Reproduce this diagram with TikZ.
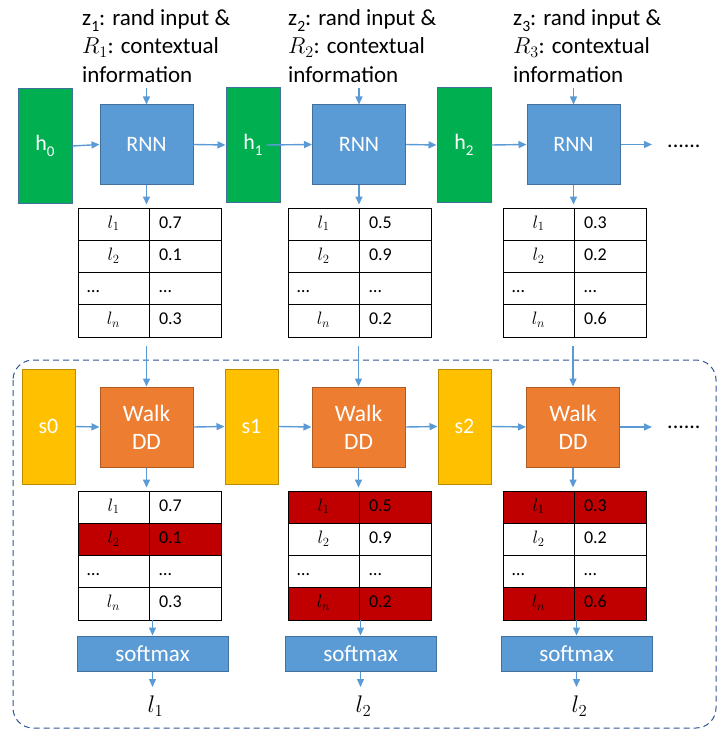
\RequirePackage{fix-cm}
\documentclass[tikz,border=0pt]{standalone}
\usepackage{graphicx}
\usepackage{fontspec}
\setmainfont{Carlito}
\usetikzlibrary{arrows.meta}

\definecolor{hgreen}{HTML}{00B050}
\definecolor{boxblue}{HTML}{5B9BD5}
\definecolor{boxedge}{HTML}{41719C}
\definecolor{walkorange}{HTML}{ED7D31}
\definecolor{walkedge}{HTML}{AE5A21}
\definecolor{stateyellow}{HTML}{FFC000}
\definecolor{stateedge}{HTML}{BC8C00}
\definecolor{pickred}{HTML}{C00000}
\definecolor{flowblue}{HTML}{5B9BD5}
\definecolor{frameblue}{HTML}{2F5597}

% lowered, smaller subscript in the text font
\newcommand\lsub[1]{\raisebox{-0.28em}{\scalebox{0.68}{#1}}}
% ellipsis pushed to the left of a label cell
\newcommand\dotsleft{\makebox[53pt][l]{…}}

% one probability table: prefix, left x, top y, rows label/value/fill
\newcommand\probtable[4]{%
  \foreach \lab/\val/\fc [count=\i] in {#4}{%
    \node[cellL, fill=\fc] (#1l\i) at ({#2+35.5},{#3+(\i-0.5)*32.25}) {\lab};
    \node[cellR, fill=\fc] (#1r\i) at ({#2+107},{#3+(\i-0.5)*32.25}) {\val};
  }}

\tikzset{
  hstate/.style={rectangle, fill=hgreen, draw=boxedge, line width=1pt,
    minimum width=54pt, minimum height=114pt, inner sep=0pt, text=white,
    font=\fontsize{22}{26}\selectfont},
  sstate/.style={rectangle, fill=stateyellow, draw=stateedge, line width=1pt,
    minimum width=53pt, minimum height=115pt, inner sep=0pt, text=white,
    font=\fontsize{22}{26}\selectfont},
  rnnbox/.style={rectangle, fill=boxblue, draw=boxedge, line width=1pt,
    minimum width=93pt, minimum height=79pt, inner sep=0pt, text=white,
    font=\fontsize{22}{26}\selectfont},
  walkbox/.style={rectangle, fill=walkorange, draw=walkedge, line width=1pt,
    minimum width=93pt, minimum height=80pt, inner sep=0pt, text=white,
    align=center, font=\fontsize{23.5}{28}\selectfont},
  softbox/.style={rectangle, fill=boxblue, draw=boxedge, line width=1pt,
    minimum width=151pt, minimum height=35pt, inner sep=0pt, text=white,
    font=\fontsize{23}{26}\selectfont},
  flow/.style={draw=flowblue, line width=1.4pt, -{Triangle[length=8pt,width=7pt]}},
  cellL/.style={rectangle, draw=black, line width=0.9pt, text width=53pt,
    inner xsep=9pt, inner ysep=0pt, align=center, minimum height=32.25pt,
    text height=12pt, text depth=4pt, font=\fontsize{18}{20}\selectfont},
  cellR/.style={cellL, text width=52pt, inner xsep=10pt, align=left},
  inputtext/.style={anchor=north west, inner sep=0pt, align=left,
    font=\fontsize{23}{28.5}\selectfont},
  outlabel/.style={anchor=north, inner sep=0pt, font=\fontsize{24}{26}\selectfont},
  moredots/.style={anchor=west, inner sep=0pt, font=\fontsize{22}{24}\selectfont},
  stageframe/.style={draw=frameblue, line width=1pt, dash pattern=on 6pt off 4pt,
    rounded corners=20pt},
}

\begin{document}
\begin{tikzpicture}[x=1pt, y=-1pt]
\useasboundingbox (0,0) rectangle (718,730);

% dashed frame around the walk stage
\draw[stageframe] (13,360) rectangle (716,728);

% ---- recurrent generator row ----
\node[inputtext] (ctx1) at (82,9)  {z\lsub{1}: rand input \&\\$R_1$: contextual\\information};
\node[inputtext] (ctx2) at (288,9) {z\lsub{2}: rand input \&\\$R_2$: contextual\\information};
\node[inputtext] (ctx3) at (513,9) {z\lsub{3}: rand input \&\\$R_3$: contextual\\information};

\node[hstate] (h0) at (45,146)  {h\lsub{0}};
\node[hstate] (h1) at (253,145) {h\lsub{1}};
\node[hstate] (h2) at (464,145) {h\lsub{2}};

\node[rnnbox] (rnn1) at (146.5,144.5) {RNN};
\node[rnnbox] (rnn2) at (359,144.5)   {RNN};
\node[rnnbox] (rnn3) at (573.5,144.5) {RNN};

\node[moredots] (more1) at (667,146) {......};

\coordinate (in1) at (146.5,88);
\coordinate (in2) at (359,88);
\coordinate (in3) at (573.5,88);
\coordinate (cont1) at (652,144.5);

\draw[flow] (in1) -- (rnn1.north);
\draw[flow] (in2) -- (rnn2.north);
\draw[flow] (in3) -- (rnn3.north);

\draw[flow] (h0.east) -- (rnn1.west);
\draw[flow] (rnn1.east) -- (h1.west);
\draw[flow] ([xshift=-14pt]h1.east) -- (rnn2.west);
\draw[flow] (rnn2.east) -- (h2.west);
\draw[flow] (h2.east) -- (rnn3.west);
\draw[flow] (rnn3.east) -- (cont1);

% label distributions produced by the RNN
\probtable{A}{78}{208}{$l_1$/0.7/white, $l_2$/0.1/white, \dotsleft/…/white, $l_n$/0.3/white}
\probtable{B}{288}{208}{$l_1$/0.5/white, $l_2$/0.9/white, \dotsleft/…/white, $l_n$/0.2/white}
\probtable{C}{503}{208}{$l_1$/0.3/white, $l_2$/0.2/white, \dotsleft/…/white, $l_n$/0.6/white}

\draw[flow, shorten >=3pt] (rnn1.south) -- (rnn1.south |- Al1.north);
\draw[flow, shorten >=3pt] (rnn2.south) -- (rnn2.south |- Bl1.north);
\draw[flow, shorten >=3pt] (rnn3.south) -- (rnn3.south |- Cl1.north);

% ---- walk row ----
\node[sstate] (s0) at (48.5,426.5)  {s0};
\node[sstate] (s1) at (251.5,426.5) {s1};
\node[sstate] (s2) at (464.5,426.5) {s2};

\node[walkbox] (walk1) at (146.5,427) {Walk\\DD};
\node[walkbox] (walk2) at (358.5,427) {Walk\\DD};
\node[walkbox] (walk3) at (573,427)   {Walk\\DD};

\node[moredots] (more2) at (667,427) {......};
\coordinate (cont2) at (652,427);

\draw[flow, shorten <=9pt] (walk1.north |- Al4.south) -- (walk1.north);
\draw[flow, shorten <=9pt] (walk2.north |- Bl4.south) -- (walk2.north);
\draw[flow, shorten <=9pt] (walk3.north |- Cl4.south) -- (walk3.north);

\draw[flow] (s0.east) -- (walk1.west);
\draw[flow] (walk1.east) -- (s1.west);
\draw[flow] (s1.east) -- (walk2.west);
\draw[flow] (walk2.east) -- (s2.west);
\draw[flow] (s2.east) -- (walk3.west);
\draw[flow] (walk3.east) -- (cont2);

% masked distributions after the walk
\probtable{D}{78}{491}{$l_1$/0.7/white, $l_2$/0.1/pickred, \dotsleft/…/white, $l_n$/0.3/white}
\probtable{E}{288}{491}{$l_1$/0.5/pickred, $l_2$/0.9/white, \dotsleft/…/white, $l_n$/0.2/pickred}
\probtable{F}{503}{491}{$l_1$/0.3/pickred, $l_2$/0.2/white, \dotsleft/…/white, $l_n$/0.6/pickred}

\draw[flow, shorten >=3pt] (walk1.south) -- (walk1.south |- Dl1.north);
\draw[flow, shorten >=3pt] (walk2.south) -- (walk2.south |- El1.north);
\draw[flow, shorten >=3pt] (walk3.south) -- (walk3.south |- Fl1.north);

\node[softbox] (soft1) at (152.5,653.5) {softmax};
\node[softbox] (soft2) at (360.5,653.5) {softmax};
\node[softbox] (soft3) at (576.5,653.5) {softmax};

\draw[flow] (soft1.north |- Dl4.south) -- (soft1.north);
\draw[flow] (soft2.north |- El4.south) -- (soft2.north);
\draw[flow] (soft3.north |- Fl4.south) -- (soft3.north);

\node[outlabel] (out1) at (155.5,696) {$l_1$};
\node[outlabel] (out2) at (363.5,696) {$l_2$};
\node[outlabel] (out3) at (579.5,696) {$l_2$};

\draw[flow, shorten >=9pt] (soft1.south) -- (soft1.south |- out1.north);
\draw[flow, shorten >=9pt] (soft2.south) -- (soft2.south |- out2.north);
\draw[flow, shorten >=9pt] (soft3.south) -- (soft3.south |- out3.north);
\end{tikzpicture}
\end{document}
